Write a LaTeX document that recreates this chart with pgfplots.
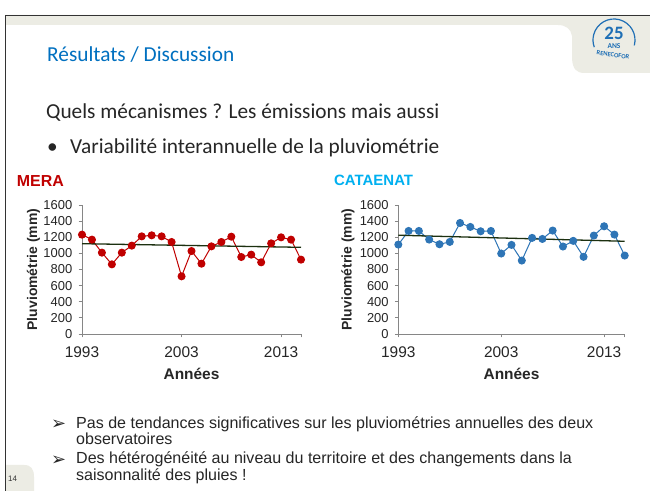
\documentclass[border=0pt]{standalone}
\usepackage{fontspec}
\setmainfont{Liberation Sans}
\newfontfamily\calibri{Carlito}
\newfontfamily\dejavu{DejaVu Sans}
\usepackage{pgfplots}
\pgfplotsset{compat=1.18}
\definecolor{meraRed}{RGB}{192,0,0}
\definecolor{catBlue}{RGB}{46,117,182}
\definecolor{titleBlue}{RGB}{0,176,240}
\definecolor{slideBlue}{RGB}{0,112,192}
\definecolor{trend}{RGB}{28,48,16}
\definecolor{beige}{RGB}{236,236,228}
\definecolor{axisgray}{RGB}{134,134,134}
\definecolor{logoBlue}{RGB}{31,111,181}

\pgfplotstableread{
year mm
1993 1232
1994 1170
1995 1009
1996 864
1997 1009
1998 1096
1999 1211
2000 1224
2001 1211
2002 1141
2003 715
2004 1029
2005 872
2006 1087
2007 1141
2008 1207
2009 955
2010 984
2011 889
2012 1124
2013 1199
2014 1170
2015 922
}\meradata

\pgfplotstableread{
year mm
1993 1109
1994 1278
1995 1278
1996 1171
1997 1113
1998 1142
1999 1377
2000 1328
2001 1274
2002 1278
2003 998
2004 1105
2005 911
2006 1192
2007 1179
2008 1283
2009 1085
2010 1155
2011 957
2012 1221
2013 1336
2014 1233
2015 973
}\catdata

\pgfplotsset{rainstyle/.style={
  scale only axis, height=129bp,
  xmin=1993, xmax=2015, ymin=0, ymax=1600,
  axis x line*=bottom, axis y line*=left,
  axis line style={-, axisgray, line width=0.8bp},
  xtick={1993,2003,2013}, ytick={0,200,...,1600},
  extra x ticks={2015}, extra x tick labels={},
  tick align=outside, major tick length=3.5bp,
  tick style={axisgray, line width=0.8bp},
  /pgf/number format/.cd, 1000 sep={}, assume math mode=true, /pgfplots/.cd,
  yticklabel style={font=\fontsize{13}{13}\selectfont, text=black!85, inner sep=1bp, xshift=-5bp},
  xticklabel style={font=\fontsize{15.5}{15.5}\selectfont, text=black!85, yshift=-6bp},
  ylabel={Pluviométrie (mm)},
  ylabel style={font=\bfseries\fontsize{14}{14}\selectfont, text=black!85, at={(axis description cs:-0.222,0.5)}, anchor=center},
  xlabel={Années},
  xlabel style={font=\bfseries\fontsize{15.5}{15.5}\selectfont, text=black!85, at={(axis description cs:0.5,-0.31)}, anchor=center},
  clip=false,
}}

\begin{document}
\begin{tikzpicture}[x=1bp,y=1bp]
\useasboundingbox (0,0) rectangle (650,491);
\fill[white] (0,0) rectangle (650,491);
% slide decorations
\fill[beige] (5,476) -- (650,476) -- (650,418) -- (585,418) .. controls (576,418) and (573,422) .. (572,432) -- (572,455) .. controls (571,462) and (566,466) .. (558,466) -- (5,466) -- cycle;
\fill[beige] (5,0) -- (5,26) -- (24,26) .. controls (31,26) and (34,22) .. (34,14) -- (34,0) -- cycle;
\draw[black!80, line width=0.8bp] (650,476) -- (5,476) -- (5,0);
\node[anchor=base west, inner sep=0, font=\fontsize{8}{8}\selectfont, text=black!80] at (8,9) {14};
% logo
\draw[logoBlue, line width=1.2bp] (614,451) ++(-15:21) arc (-15:200:21);
\node[anchor=base, text=logoBlue, font=\calibri\bfseries\fontsize{19}{19}\selectfont, inner sep=0] at (614,451) {25};
\node[anchor=base, text=logoBlue, font=\calibri\bfseries\fontsize{7.5}{7.5}\selectfont, inner sep=0] at (614,442) {ANS};
\node[text=logoBlue, font=\calibri\bfseries\fontsize{6.5}{6.5}\selectfont, inner sep=0, rotate=-8] at (613,436) {RENECOFOR};
% slide text
\node[anchor=base west, inner sep=0, text=slideBlue, font=\calibri\fontsize{21.4}{21.4}\selectfont] at (47,429) {Résultats / Discussion};
\node[anchor=base west, inner sep=0, text=black!85, font=\calibri\fontsize{21.4}{21.4}\selectfont] at (46,372.7) {Quels mécanismes ? Les émissions mais aussi};
\node[anchor=base west, inner sep=0, text=black!85, font=\calibri\fontsize{21.4}{21.4}\selectfont] at (47,337.7) {•};
\node[anchor=base west, inner sep=0, text=black!85, font=\calibri\fontsize{21.4}{21.4}\selectfont] at (70,337.7) {Variabilité interannuelle de la pluviométrie};
% chart titles
\node[anchor=base west, inner sep=0, text=meraRed, font=\bfseries\fontsize{16}{16}\selectfont] at (16.7,304) {MERA};
\node[anchor=base west, inner sep=0, text=titleBlue, font=\bfseries\fontsize{15}{15}\selectfont] at (334,305) {CATAENAT};
% MERA chart
\begin{axis}[rainstyle, width=219bp, at={(82bp,157bp)}, anchor=south west]
\addplot[meraRed, line width=1bp, mark=*, mark size=3.5bp, mark options={fill=meraRed, draw=meraRed}] table[x=year,y=mm] {\meradata};
\addplot[trend, line width=1.3bp, no marks] coordinates {(1993,1120) (2015,1075)};
\end{axis}
% CATAENAT chart
\begin{axis}[rainstyle, width=226.4bp, at={(398.3bp,157bp)}, anchor=south west]
\addplot[catBlue, line width=1bp, mark=*, mark size=3.5bp, mark options={fill=catBlue, draw=catBlue}] table[x=year,y=mm] {\catdata};
\addplot[trend, line width=1.3bp, no marks] coordinates {(1993,1225) (2015,1150)};
\end{axis}
% bottom text
\node[anchor=base west, inner sep=0, text=black!85, font=\dejavu\fontsize{18}{18}\selectfont] at (51,61.5) {➢};
\node[anchor=base west, inner sep=0, text=black!85, font=\fontsize{16.1}{16.1}\selectfont] at (76,62.7) {Pas de tendances significatives sur les pluviométries annuelles des deux};
\node[anchor=base west, inner sep=0, text=black!85, font=\fontsize{16.1}{16.1}\selectfont] at (76,46) {observatoires};
\node[anchor=base west, inner sep=0, text=black!85, font=\dejavu\fontsize{18}{18}\selectfont] at (51,25.8) {➢};
\node[anchor=base west, inner sep=0, text=black!85, font=\fontsize{16.1}{16.1}\selectfont] at (76,27) {Des hétérogénéité au niveau du territoire et des changements dans la};
\node[anchor=base west, inner sep=0, text=black!85, font=\fontsize{16.1}{16.1}\selectfont] at (76,10) {saisonnalité des pluies !};
\end{tikzpicture}
\end{document}
